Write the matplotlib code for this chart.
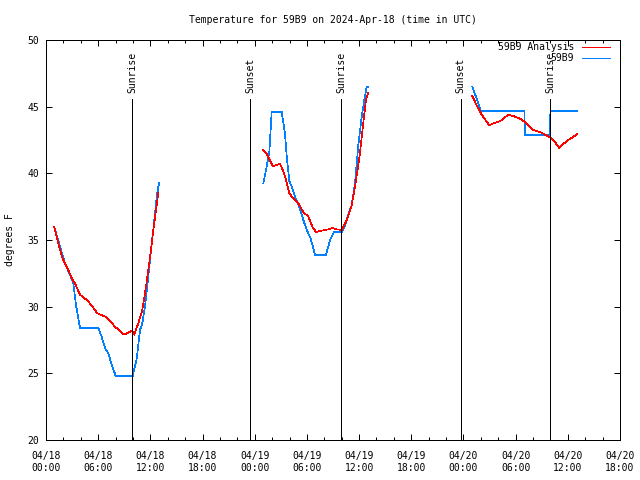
import numpy as np
import pandas as pd
import matplotlib
matplotlib.use("Agg")
import matplotlib.pyplot as plt
import matplotlib.dates as mdates

# hours after 2024-04-18 00:00 UTC, nan = gap in the record
analysis_hours = [0.92, 1.03, 1.41, 1.92, 2.56, 3.02, 3.33, 3.91, 4.68, 5.25, 5.90, 6.98, 7.93, 9.00,
	9.92, 10.15, 10.61, 11.07, 11.50, 12.07, 12.34, 12.91, np.nan,
	24.99, 25.38, 26.07, 26.91, 27.22, 27.60, 27.98, 28.44, 29.01, 29.59, 30.16, 30.62, 31.05,
	31.70, 32.46, 32.97, 33.43, 34.00, 34.58, 35.15, 35.53, 36.02, 36.48, 36.79, 37.06, np.nan,
	49.02, 49.52, 50.10, 50.97, 51.63, 52.20, 53.16, 53.93, 54.50, 55.19, 56.03, 56.80, 57.38,
	57.95, 58.45, 59.02, 59.48, 60.06, 60.56, 61.09]
analysis_temp = [36.0, 35.75, 34.75, 33.6, 32.75, 32.05, 31.75, 30.9, 30.5, 30.1, 29.5, 29.2, 28.5, 27.9,
	28.2, 27.9, 28.75, 29.75, 31.5, 34.25, 35.75, 38.5, np.nan,
	41.75, 41.45, 40.55, 40.7, 40.25, 39.5, 38.5, 38.1, 37.75, 37.1, 36.75, 36.0, 35.6,
	35.7, 35.8, 35.9, 35.8, 35.75, 36.5, 37.6, 39.0, 41.1, 43.75, 45.5, 46.05, np.nan,
	45.8, 45.1, 44.4, 43.6, 43.8, 43.9, 44.4, 44.25, 44.1, 43.8, 43.25, 43.1, 42.9,
	42.7, 42.4, 41.9, 42.2, 42.5, 42.7, 42.95]

obs_hours = [1.03, 1.61, 2.18, 2.76, 3.14, 3.45, 3.91, 6.01, 6.40, 6.78, 7.16, 7.44, 8.01, 9.97,
	10.43, 10.81, 11.07, 11.38, 11.76, 12.15, 12.34, 12.73, 12.99, np.nan,
	24.99, 25.30, 25.68, 25.95, 27.10, 27.48, 27.68, 27.98, 28.25, 28.63, 29.12, 29.59, 29.98,
	30.44, 30.93, 32.20, 32.66, 33.11, 34.00, 34.38, 34.76, 35.15, 35.53, 35.91, 36.30, 36.60,
	36.87, 37.06, np.nan,
	49.02, 49.52, 49.98, 55.00, 55.08, 57.95, 58.00, 61.09]
obs_temp = [35.8, 34.5, 33.25, 32.4, 31.75, 30.1, 28.4, 28.4, 27.75, 26.9, 26.5, 25.9, 24.8, 24.8,
	26.1, 28.25, 28.75, 30.0, 32.25, 34.75, 35.75, 38.25, 39.25, np.nan,
	39.25, 40.25, 41.6, 44.6, 44.6, 43.0, 41.25, 39.4, 39.0, 38.25, 37.5, 36.5, 35.75,
	35.1, 33.9, 33.9, 35.0, 35.6, 35.6, 36.1, 36.9, 37.6, 39.25, 42.1, 44.25, 45.5,
	46.45, 46.45, np.nan,
	46.5, 45.6, 44.7, 44.7, 42.9, 42.9, 44.7, 44.7]

event_hours = [9.92, 23.51, 33.92, 47.68, 57.99]
event_names = ["Sunrise", "Sunset", "Sunrise", "Sunset", "Sunrise"]

start = pd.Timestamp("2024-04-18 00:00")

def to_time(hours):
	h = np.nan_to_num(np.array(hours, dtype=float), nan=0.0)
	t = start + pd.to_timedelta(h, unit="h")
	return t.to_numpy()

font = "DejaVu Sans Mono"
plt.rcParams["font.family"] = font
plt.rcParams["font.size"] = 7
plt.rcParams["lines.antialiased"] = False

fig = plt.figure(figsize=(6.4, 4.8), dpi=100)
ax = fig.add_axes([46 / 640, 40 / 480, 574 / 640, 400 / 480])

lw = 0.72  # one pixel
dlw = 0.5
ax.plot(to_time(obs_hours), obs_temp, color="#0080ff", lw=dlw, label="59B9")
ax.plot(to_time(analysis_hours), analysis_temp, color="red", lw=dlw, label="59B9 Analysis")

ev_t = to_time(event_hours)
ax.vlines(ev_t, 20, 45.6, color="black", lw=lw, zorder=3, antialiased=False)
for t, name in zip(ev_t, event_names):
	ax.text(t, 46.0, name, rotation=90, ha="center", va="bottom", fontsize=7)

ax.set_xlim(start.to_numpy(), (start + pd.Timedelta(hours=66)).to_numpy())
ax.set_ylim(20, 50)
ax.set_yticks(range(20, 51, 5))
ax.xaxis.set_major_locator(mdates.HourLocator(byhour=range(0, 24, 6)))
ax.xaxis.set_minor_locator(mdates.HourLocator(byhour=range(0, 24, 2)))
ax.xaxis.set_major_formatter(mdates.DateFormatter("%m/%d\n%H:%M"))
ax.tick_params(which="both", direction="in", top=True, right=True, width=lw)
ax.tick_params(which="major", length=4.5)
ax.tick_params(which="minor", length=2.5)
ax.tick_params(axis="x", pad=8)
ax.tick_params(axis="y", pad=5)
for s in ax.spines.values():
	s.set_linewidth(lw)

handles, labels = ax.get_legend_handles_labels()
leg = ax.legend(handles[::-1], labels[::-1], loc="upper right", bbox_to_anchor=(0.9826, 0.995),
	markerfirst=False, frameon=False, borderpad=0, borderaxespad=0, handlelength=2.9,
	handletextpad=0.8, labelspacing=0.15, fontsize=7)
for line in leg.get_lines():
	line.set_linewidth(lw)

fig.text(333 / 640, 1 - 20 / 480, "Temperature for 59B9 on 2024-Apr-18 (time in UTC)", ha="center", va="center", fontsize=7)
fig.text(10 / 640, 0.5, "degrees F", rotation=90, ha="center", va="center", fontsize=7)

fig.savefig("out.png", dpi=100)
